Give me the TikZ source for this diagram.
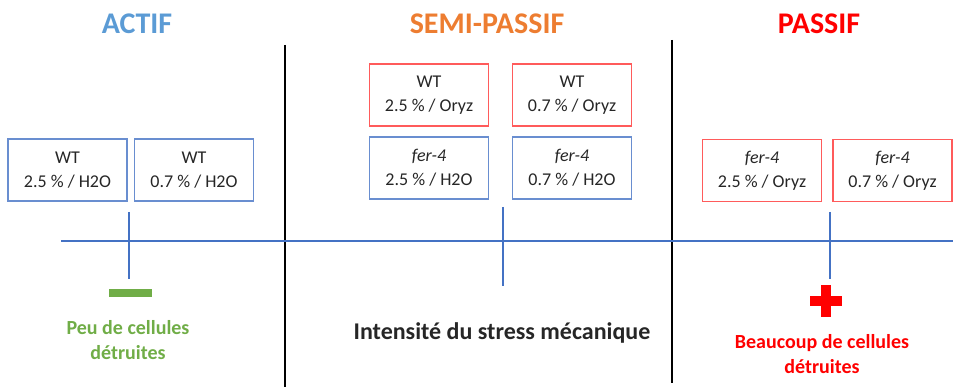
\documentclass[tikz,border=0pt]{standalone}
\usepackage{fontspec}
\setmainfont{Carlito}
\definecolor{actifblue}{HTML}{5B9BD5}
\definecolor{semiorange}{HTML}{ED7D31}
\definecolor{passred}{HTML}{FF0000}
\definecolor{boxred}{HTML}{FF5B5B}
\definecolor{boxblue}{HTML}{4472C4}
\definecolor{fewgreen}{HTML}{70AD47}
\definecolor{boxtext}{HTML}{262626}
\begin{document}
\begin{tikzpicture}[x=1pt,y=-1pt,
  title/.style={font=\fontsize{30}{36}\selectfont\bfseries},
  cond/.style={draw, line width=1.2pt, minimum width=119pt, minimum height=62pt,
    inner sep=0pt, align=center, text=boxtext, font=\fontsize{18}{24}\selectfont},
  bluebox/.style={cond, draw=boxblue!80},
  redbox/.style={cond, draw=boxred},
  result/.style={align=center, font=\fontsize{20}{25}\selectfont\bfseries},
  tick/.style={boxblue, line width=1.2pt}]

\useasboundingbox (0,0) rectangle (953,387);

% Coordinates
\coordinate (axisW) at (61,241);
\coordinate (axisE) at (953,241);
\coordinate (sepAtop) at (285,45);
\coordinate (sepAbot) at (285,387);
\coordinate (sepBtop) at (672,40);
\coordinate (sepBbot) at (672,383);
\coordinate (tickAtop) at (129,212);
\coordinate (tickAbot) at (129,279);
\coordinate (tickBtop) at (503,207);
\coordinate (tickBbot) at (503,286);
\coordinate (tickCtop) at (830,212);
\coordinate (tickCbot) at (830,279);

% Titles
\node[title, text=actifblue] (actif) at (137,24) {ACTIF};
\node[title, text=semiorange] (semi) at (487,24) {SEMI-PASSIF};
\node[title, text=passred] (passif) at (819,24) {PASSIF};

% Separators and axis
\draw[line width=2.5pt] (sepAtop) -- (sepAbot);
\draw[line width=2.5pt] (sepBtop) -- (sepBbot);
\draw[boxblue, line width=2pt] (axisW) -- (axisE);

% Conditions
\node[bluebox] (wtH2Ohigh) at (67.5,170) {WT\\2.5 \% / H2O};
\node[bluebox] (wtH2Olow) at (194,170) {WT\\0.7 \% / H2O};
\node[redbox] (wtOryzhigh) at (429,95) {WT\\2.5 \% / Oryz};
\node[redbox] (wtOryzlow) at (572,95) {WT\\0.7 \% / Oryz};
\node[bluebox] (ferH2Ohigh) at (429,168) {\textit{fer-4}\\2.5 \% / H2O};
\node[bluebox] (ferH2Olow) at (572,168) {\textit{fer-4}\\0.7 \% / H2O};
\node[redbox] (ferOryzhigh) at (762,170.5) {\textit{fer-4}\\2.5 \% / Oryz};
\node[redbox] (ferOryzlow) at (892.5,170.5) {\textit{fer-4}\\0.7 \% / Oryz};

% Ticks
\draw[tick] (tickAtop) -- (tickAbot);
\draw[tick] (tickBtop) -- (tickBbot);
\draw[tick] (tickCtop) -- (tickCbot);

% Minus and plus
\fill[fewgreen] (109,289) rectangle (152,297);
\fill[passred] (821,285) rectangle (831,317);
\fill[passred] (810,296) rectangle (842,306);

% Labels
\node[result, text=fewgreen] (few) at (128,340) {Peu de cellules\\détruites};
\node[result, font=\fontsize{24}{29}\selectfont\bfseries, text=boxtext] (stress) at (502,333) {Intensité du stress mécanique};
\node[result, text=passred] (many) at (822,354) {Beaucoup de cellules\\détruites};

\end{tikzpicture}
\end{document}
